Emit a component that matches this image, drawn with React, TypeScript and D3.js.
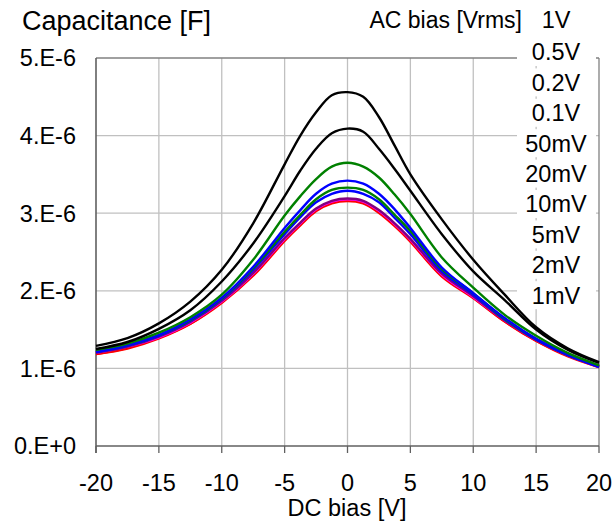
import * as d3 from 'd3';

// DC bias [V]
const dcBias = [-20, -17.5, -15, -12.5, -10, -7.5, -5, -3.75, -2.5, -1.25, 0, 1.25, 2.5, 3.75, 5, 7.5, 10, 12.5, 15, 17.5, 20];

// capacitance in units of 1E-6 F, one array per AC bias level
const c1V    = [1.29, 1.39, 1.58, 1.86, 2.27, 2.87, 3.63, 4.00, 4.30, 4.52, 4.56, 4.50, 4.24, 3.87, 3.50, 2.92, 2.40, 1.95, 1.53, 1.26, 1.08];
const c05V   = [1.25, 1.34, 1.51, 1.75, 2.12, 2.61, 3.22, 3.55, 3.83, 4.03, 4.09, 4.05, 3.83, 3.57, 3.29, 2.73, 2.25, 1.88, 1.50, 1.24, 1.07];
const c02V   = [1.24, 1.32, 1.46, 1.66, 1.95, 2.40, 2.97, 3.22, 3.44, 3.60, 3.65, 3.60, 3.46, 3.24, 2.99, 2.43, 2.04, 1.69, 1.42, 1.20, 1.04];
const c01V   = [1.21, 1.30, 1.43, 1.63, 1.91, 2.31, 2.81, 3.04, 3.25, 3.38, 3.42, 3.38, 3.25, 3.05, 2.81, 2.30, 1.97, 1.65, 1.38, 1.18, 1.02];
const c50mV  = [1.22, 1.30, 1.43, 1.62, 1.90, 2.29, 2.76, 2.98, 3.18, 3.30, 3.33, 3.30, 3.18, 2.98, 2.77, 2.28, 1.97, 1.64, 1.38, 1.18, 1.03];
const c20mV  = [1.21, 1.29, 1.42, 1.61, 1.89, 2.27, 2.73, 2.95, 3.14, 3.25, 3.29, 3.25, 3.14, 2.94, 2.73, 2.25, 1.95, 1.63, 1.37, 1.17, 1.02];
const c10mV  = [1.20, 1.28, 1.41, 1.60, 1.87, 2.23, 2.68, 2.88, 3.06, 3.16, 3.19, 3.16, 3.04, 2.87, 2.67, 2.22, 1.93, 1.62, 1.37, 1.17, 1.02];
const c5mV   = [1.20, 1.28, 1.40, 1.59, 1.86, 2.22, 2.67, 2.87, 3.05, 3.15, 3.18, 3.15, 3.03, 2.86, 2.66, 2.21, 1.92, 1.62, 1.37, 1.17, 1.02];
const c2mV   = [1.19, 1.27, 1.40, 1.58, 1.86, 2.21, 2.66, 2.86, 3.04, 3.14, 3.17, 3.14, 3.02, 2.85, 2.65, 2.20, 1.92, 1.61, 1.36, 1.17, 1.02];
const c1mV   = [1.19, 1.26, 1.39, 1.58, 1.85, 2.20, 2.65, 2.85, 3.03, 3.13, 3.16, 3.13, 3.01, 2.84, 2.64, 2.19, 1.91, 1.61, 1.36, 1.16, 1.02];

const acLabels = ['1V', '0.5V', '0.2V', '0.1V', '50mV', '20mV', '10mV', '5mV', '2mV', '1mV'];
const acValues = [c1V, c05V, c02V, c01V, c50mV, c20mV, c10mV, c5mV, c2mV, c1mV];
const acColors = ['#000000', '#000000', '#008000', '#0000ff', '#008000', '#0000ff', '#800080', '#ff00ff', '#ff0000', '#ff0000'];

const xTicks = [-20, -15, -10, -5, 0, 5, 10, 15, 20];
const yTicks = [0, 1, 2, 3, 4, 5];
const yTickLabels = ['0.E+0', '1.E-6', '2.E-6', '3.E-6', '4.E-6', '5.E-6'];

const W = 614, H = 523;
const plot = { left: 96, right: 599, top: 58, bottom: 446 };
const font = 'Arial, "Liberation Sans", sans-serif';

export default function App() {
	const x = d3.scaleLinear().domain([-20, 20]).range([plot.left, plot.right]);
	const y = d3.scaleLinear().domain([0, 5]).range([plot.bottom, plot.top]);

	const line = d3.line<number>()
		.x((_, i) => x(dcBias[i]))
		.y(d => y(d))
		.curve(d3.curveCatmullRom.alpha(0.5));

	// legend entries after the first sit down the right side
	const legendY = (i: number) => 52 + (i - 1) * 30.4;

	return (
		<div style={{ position: 'fixed', left: 0, top: 0 }}>
			<svg width={W} height={H} style={{ display: 'block', background: '#fff' }} fontFamily={font}>
				{/* grid */}
				{xTicks.slice(1, -1).map(t => (
					<line key={'gx' + t} x1={x(t)} x2={x(t)} y1={plot.top} y2={plot.bottom} stroke="#c0c0c0" strokeWidth={1.3} />
				))}
				{yTicks.slice(1, -1).map(t => (
					<line key={'gy' + t} x1={plot.left} x2={plot.right} y1={y(t)} y2={y(t)} stroke="#c0c0c0" strokeWidth={1.3} />
				))}
				<line x1={plot.left} x2={plot.right} y1={plot.top} y2={plot.top} stroke="#808080" strokeWidth={1.3} />
				<line x1={plot.right} x2={plot.right} y1={plot.top} y2={plot.bottom} stroke="#808080" strokeWidth={1.3} />

				{/* legend label backgrounds hide the grid */}
				{acLabels.slice(1).map((l, i) => (
					<rect key={'bg' + l} x={517} y={legendY(i + 1) - 14} width={79} height={28} fill="#fff" />
				))}

				{/* axes */}
				<line x1={plot.left} x2={plot.left} y1={plot.top} y2={plot.bottom + 7} stroke="#606060" strokeWidth={1.6} />
				<line x1={plot.left} x2={plot.right} y1={plot.bottom} y2={plot.bottom} stroke="#606060" strokeWidth={1.6} />
				{xTicks.map(t => (
					<line key={'tx' + t} x1={x(t)} x2={x(t)} y1={plot.bottom} y2={plot.bottom + 7} stroke="#606060" strokeWidth={1.3} />
				))}

				{/* curves */}
				{acValues.map((vals, i) => (
					<path key={acLabels[i]} d={line(vals) ?? ''} fill="none" stroke={acColors[i]}
						strokeWidth={i >= 8 ? 3 : 2.4} strokeLinejoin="round" />
				)).reverse()}

				{/* tick labels */}
				{yTicks.map((t, i) => (
					<text key={'ly' + t} x={76} y={y(t)} dy="0.36em" textAnchor="end" fontSize={23.5} fill="#000">{yTickLabels[i]}</text>
				))}
				{xTicks.map(t => (
					<text key={'lx' + t} x={x(t)} y={483} dy="0.36em" textAnchor="middle" fontSize={23.5} fill="#000">{t}</text>
				))}

				<text x={22} y={30} fontSize={27} fill="#000">Capacitance [F]</text>
				<text x={347} y={508} dy="0.36em" textAnchor="middle" fontSize={23.5} fill="#000">DC bias [V]</text>

				<text x={522} y={20} dy="0.36em" textAnchor="end" fontSize={23} fill="#000">AC bias [Vrms]</text>
				<text x={556} y={20} dy="0.36em" textAnchor="middle" fontSize={23.5} fill="#000">{acLabels[0]}</text>
				{acLabels.slice(1).map((l, i) => (
					<text key={'lg' + l} x={556} y={legendY(i + 1)} dy="0.36em" textAnchor="middle" fontSize={23.5} fill="#000">{l}</text>
				))}
			</svg>
		</div>
	);
}
